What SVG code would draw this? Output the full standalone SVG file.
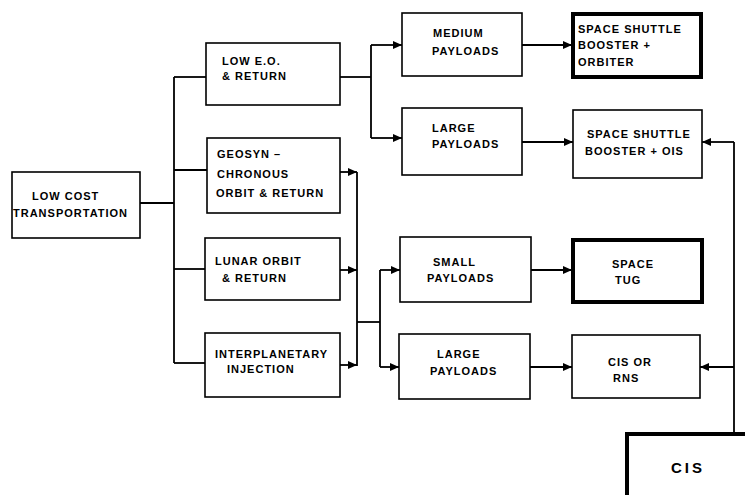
<svg xmlns="http://www.w3.org/2000/svg" width="745" height="495" viewBox="0 0 745 495">
<defs>
<marker id="ah" markerUnits="userSpaceOnUse" markerWidth="9" markerHeight="8" refX="9" refY="4" orient="auto">
<path d="M0,0 L9,4 L0,8 z" fill="#000"/>
</marker>
<style>
.box{fill:#fff;stroke:#000;stroke-width:1.6}
.thick{fill:#fff;stroke:#000;stroke-width:4}
.t{font-family:"Liberation Sans",Arial,sans-serif;font-size:11px;font-weight:bold;letter-spacing:1px;fill:#000}
.big{font-size:15px;letter-spacing:3px}
.c{fill:none;stroke:#000;stroke-width:1.8}
.a{marker-end:url(#ah)}
</style>
</defs>
<rect width="745" height="495" fill="#fff"/>
<g id="connectors">
<line class="c" x1="140" y1="203" x2="174" y2="203"/>
<line class="c" x1="174" y1="77" x2="174" y2="363"/>
<line class="c" x1="174" y1="77" x2="206" y2="77"/>
<line class="c" x1="174" y1="170" x2="207" y2="170"/>
<line class="c" x1="174" y1="269" x2="205" y2="269"/>
<line class="c" x1="174" y1="363" x2="205" y2="363"/>
<line class="c" x1="340" y1="77" x2="371" y2="77"/>
<line class="c" x1="371" y1="45" x2="371" y2="138"/>
<line class="c a" x1="371" y1="45" x2="402" y2="45"/>
<line class="c a" x1="371" y1="138" x2="402" y2="138"/>
<line class="c a" x1="522" y1="45" x2="572" y2="45"/>
<line class="c a" x1="522" y1="142" x2="573" y2="142"/>
<line class="c a" x1="340" y1="172" x2="357" y2="172"/>
<line class="c a" x1="340" y1="270" x2="357" y2="270"/>
<line class="c a" x1="340" y1="365" x2="357" y2="365"/>
<line class="c" x1="357" y1="172" x2="357" y2="366"/>
<line class="c" x1="357" y1="322" x2="380" y2="322"/>
<line class="c" x1="380" y1="270" x2="380" y2="367"/>
<line class="c a" x1="380" y1="270" x2="400" y2="270"/>
<line class="c a" x1="380" y1="367" x2="399" y2="367"/>
<line class="c a" x1="531" y1="270" x2="572" y2="270"/>
<line class="c a" x1="530" y1="367" x2="572" y2="367"/>
<line class="c" x1="734" y1="142" x2="734" y2="432"/>
<line class="c a" x1="734" y1="142" x2="702" y2="142"/>
<line class="c a" x1="734" y1="367" x2="700" y2="367"/>
</g>
<g id="n_lowcost">
<rect class="box" x="12" y="172" width="128" height="66"/>
<text class="t" x="32" y="200">LOW COST</text>
<text class="t" x="13" y="217">TRANSPORTATION</text>
</g>
<g id="n_loweo">
<rect class="box" x="206" y="43" width="134" height="62"/>
<text class="t" x="222" y="65">LOW E.O.</text>
<text class="t" x="222" y="80">&amp; RETURN</text>
</g>
<g id="n_geosyn">
<rect class="box" x="207" y="138" width="133" height="75"/>
<text class="t" x="217" y="158">GEOSYN –</text>
<text class="t" x="217" y="178">CHRONOUS</text>
<text class="t" x="216" y="197">ORBIT &amp; RETURN</text>
</g>
<g id="n_lunar">
<rect class="box" x="205" y="238" width="135" height="62"/>
<text class="t" x="215" y="265">LUNAR ORBIT</text>
<text class="t" x="222" y="282">&amp; RETURN</text>
</g>
<g id="n_interp">
<rect class="box" x="205" y="333" width="135" height="64"/>
<text class="t" x="215" y="358">INTERPLANETARY</text>
<text class="t" x="227" y="373">INJECTION</text>
</g>
<g id="n_medium">
<rect class="box" x="402" y="13" width="120" height="63"/>
<text class="t" x="433" y="37">MEDIUM</text>
<text class="t" x="432" y="55">PAYLOADS</text>
</g>
<g id="n_large1">
<rect class="box" x="402" y="108" width="120" height="67"/>
<text class="t" x="432" y="132">LARGE</text>
<text class="t" x="432" y="148">PAYLOADS</text>
</g>
<g id="n_small">
<rect class="box" x="400" y="237" width="131" height="65"/>
<text class="t" x="433" y="266">SMALL</text>
<text class="t" x="427" y="282">PAYLOADS</text>
</g>
<g id="n_large2">
<rect class="box" x="399" y="334" width="131" height="65"/>
<text class="t" x="437" y="358">LARGE</text>
<text class="t" x="430" y="375">PAYLOADS</text>
</g>
<g id="n_ssorbiter">
<rect class="thick" x="573" y="14" width="128" height="63"/>
<text class="t" x="578" y="33">SPACE SHUTTLE</text>
<text class="t" x="578" y="49">BOOSTER +</text>
<text class="t" x="578" y="66">ORBITER</text>
</g>
<g id="n_ssois">
<rect class="box" x="573" y="110" width="129" height="68"/>
<text class="t" x="587" y="138">SPACE SHUTTLE</text>
<text class="t" x="585" y="155">BOOSTER + OIS</text>
</g>
<g id="n_tug">
<rect class="thick" x="573" y="240" width="129" height="62"/>
<text class="t" x="612" y="268">SPACE</text>
<text class="t" x="615" y="284">TUG</text>
</g>
<g id="n_cisrns">
<rect class="box" x="572" y="335" width="128" height="63"/>
<text class="t" x="608" y="366">CIS OR</text>
<text class="t" x="613" y="382">RNS</text>
</g>
<g id="n_cis">
<rect class="thick" x="627" y="434" width="140" height="80"/>
<text class="t big" x="671" y="473">CIS</text>
</g>
</svg>
